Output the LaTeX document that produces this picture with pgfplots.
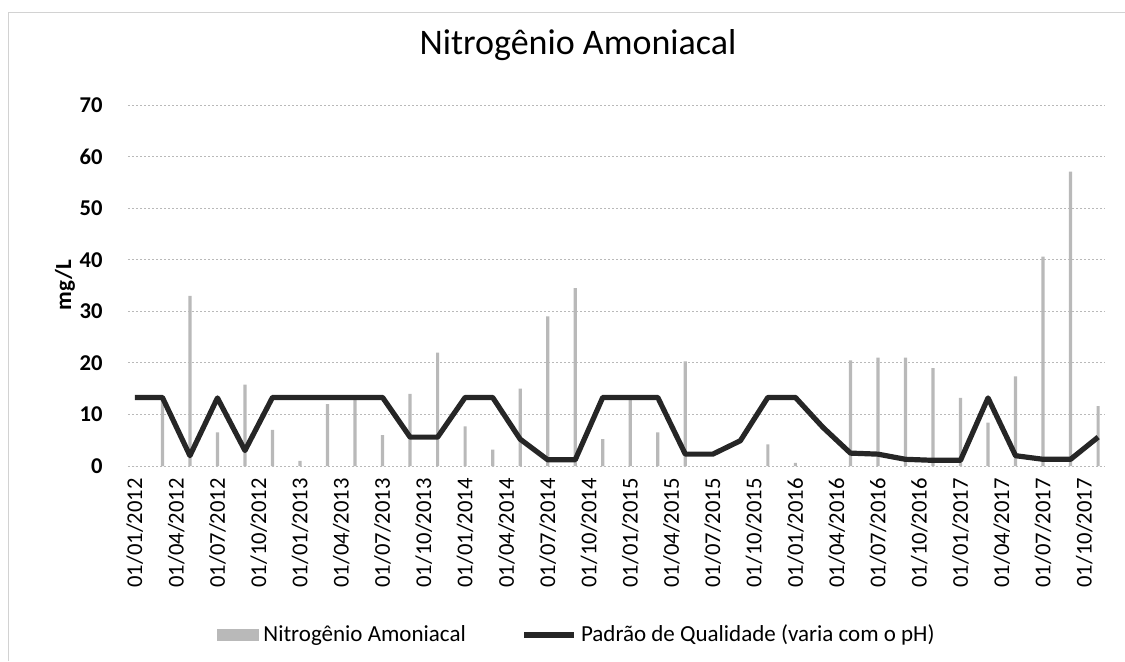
\documentclass[border=0pt]{standalone}
\usepackage{fontspec}
\setmainfont{Carlito}
\usepackage{pgfplots}
\usepackage{pgfplotstable}
\pgfplotsset{compat=1.18}
\pgfplotstableread{
m N P
0 0 13.3
2 13.5 13.3
4 33 2.0
6 6.5 13.2
8 15.8 3.0
10 7 13.3
12 1 13.3
14 12 13.3
16 12.8 13.3
18 6 13.3
20 14 5.6
22 22 5.6
24 7.7 13.3
26 3.2 13.3
28 15 5.2
30 29 1.2
32 34.5 1.2
34 5.2 13.3
36 12.9 13.3
38 6.5 13.3
40 20.3 2.3
42 0 2.3
44 0 4.9
46 4.2 13.3
48 0.6 13.3
50 0 7.5
52 20.5 2.5
54 21 2.3
56 21 1.3
58 19 1.1
60 13.2 1.1
62 8.4 13.2
64 17.4 2.0
66 40.6 1.3
68 57.1 1.3
70 11.6 5.6
}\datatable
\begin{document}
\begin{tikzpicture}
\path[use as bounding box] (0,0) rectangle (562.5pt,330.5pt);
\draw[gray!35, line width=0.5pt] (4pt,0) -- (4pt,324.5pt) -- (562.5pt,324.5pt);
\begin{axis}[
  at={(64pt,97.5pt)}, anchor=south west,
  width=488.5pt, height=180.5pt, scale only axis,
  xmin=-0.5, xmax=70.5, ymin=0, ymax=70,
  ytick={0,10,...,70},
  xtick={0,3,...,69},
  xticklabels={01/01/2012,01/04/2012,01/07/2012,01/10/2012,01/01/2013,01/04/2013,01/07/2013,01/10/2013,01/01/2014,01/04/2014,01/07/2014,01/10/2014,01/01/2015,01/04/2015,01/07/2015,01/10/2015,01/01/2016,01/04/2016,01/07/2016,01/10/2016,01/01/2017,01/04/2017,01/07/2017,01/10/2017},
  xticklabel style={rotate=90, anchor=east, inner xsep=6pt, font=\fontsize{11.3}{13}\selectfont},
  yticklabel style={anchor=east, inner xsep=12.5pt, font=\bfseries\fontsize{11.3}{13}\selectfont},
  tick style={draw=none},
  axis line style={draw=none},
  ymajorgrids,
  major grid style={gray!55, dash pattern=on 1pt off 1pt, line width=0.5pt},
  /pgf/number format/assume math mode=true,
  title={Nitrogênio Amoniacal},
  title style={at={(axis description cs:0.4606,1.133)}, anchor=center, font=\fontsize{18}{21}\selectfont},
  ylabel={mg/L},
  ylabel style={at={(axis description cs:-0.0645,0.501)}, anchor=center, font=\bfseries\fontsize{11.5}{13}\selectfont},
  legend style={at={(axis description cs:0.4606,-0.468)}, anchor=center, draw=none, legend columns=2, font=\fontsize{11.5}{13}\selectfont, /tikz/every even column/.append style={column sep=26pt}},
]
\addplot[ybar, bar width=1.6pt, fill=gray!55, draw=none,
  legend image code/.code={\fill[gray!55] (0pt,-3pt) rectangle (21pt,3pt);}]
  table[x=m, y=N]{\datatable};
\addlegendentry{Nitrogênio Amoniacal}
\addplot[black!85, line width=2.6pt, line join=round, mark=none,
  legend image code/.code={\draw[black!85, line width=2.6pt] (0pt,0pt) -- (25pt,0pt);}]
  table[x=m, y=P]{\datatable};
\addlegendentry{Padrão de Qualidade (varia com o pH)}
\end{axis}
\end{tikzpicture}
\end{document}
